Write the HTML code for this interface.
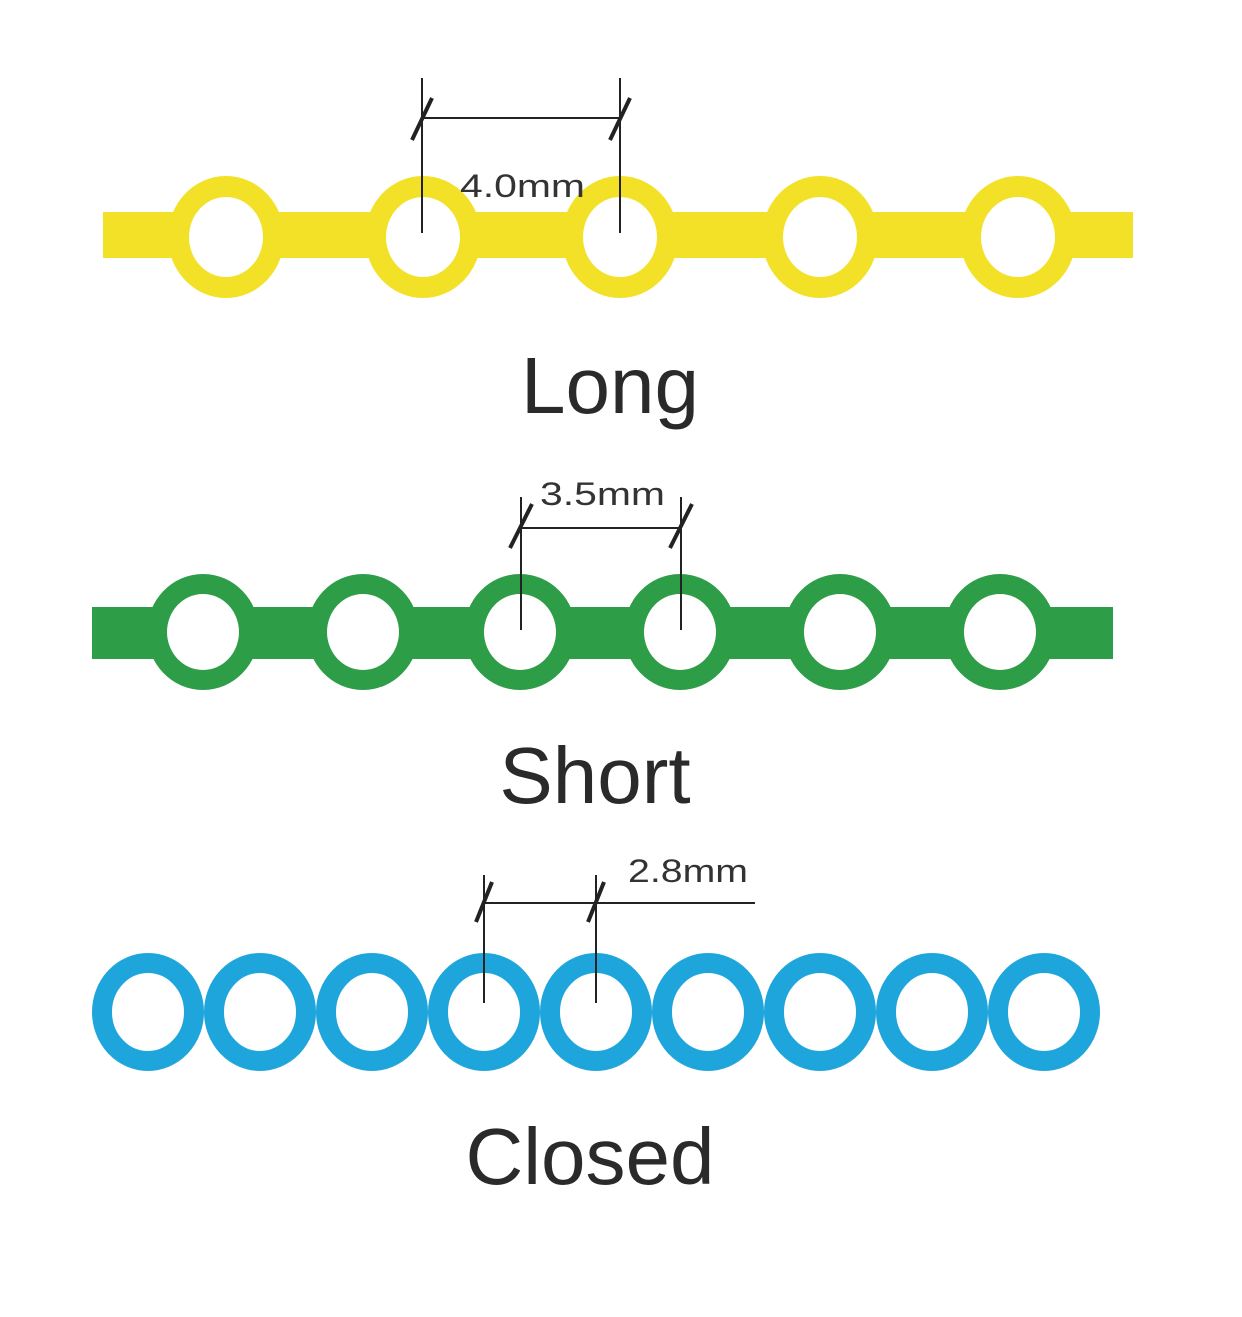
<!DOCTYPE html>
<html><head><meta charset="utf-8"><style>html,body{margin:0;padding:0;background:#fff}</style></head>
<body>
<svg width="1242" height="1312" xmlns="http://www.w3.org/2000/svg" font-family="Liberation Sans, sans-serif">
<rect width="1242" height="1312" fill="#fff"/>
<g fill="#f2e127">
<rect x="103" y="212" width="1030" height="46"/>
<ellipse cx="226" cy="237" rx="58" ry="61"/>
<ellipse cx="423" cy="237" rx="58" ry="61"/>
<ellipse cx="620" cy="237" rx="58" ry="61"/>
<ellipse cx="820" cy="237" rx="58" ry="61"/>
<ellipse cx="1018" cy="237" rx="58" ry="61"/>
</g>
<g fill="#fff">
<ellipse cx="226" cy="237" rx="37" ry="40"/>
<ellipse cx="423" cy="237" rx="37" ry="40"/>
<ellipse cx="620" cy="237" rx="37" ry="40"/>
<ellipse cx="820" cy="237" rx="37" ry="40"/>
<ellipse cx="1018" cy="237" rx="37" ry="40"/>
</g>
<g stroke="#222" fill="none">
<line x1="422" y1="78" x2="422" y2="233" stroke-width="2"/>
<line x1="620" y1="78" x2="620" y2="233" stroke-width="2"/>
<line x1="422" y1="118" x2="620" y2="118" stroke-width="2"/>
<line x1="412" y1="140" x2="432" y2="98" stroke-width="4"/>
<line x1="610" y1="140" x2="630" y2="98" stroke-width="4"/>
</g>
<text x="460" y="197" font-size="32" fill="#333" textLength="125" lengthAdjust="spacingAndGlyphs">4.0mm</text>
<text x="610" y="413" font-size="80" fill="#2a2a2a" text-anchor="middle">Long</text>
<g fill="#2e9d48">
<rect x="92" y="607" width="1021" height="52"/>
<ellipse cx="203" cy="632" rx="56" ry="58"/>
<ellipse cx="363" cy="632" rx="56" ry="58"/>
<ellipse cx="520" cy="632" rx="56" ry="58"/>
<ellipse cx="680" cy="632" rx="56" ry="58"/>
<ellipse cx="840" cy="632" rx="56" ry="58"/>
<ellipse cx="1000" cy="632" rx="56" ry="58"/>
</g>
<g fill="#fff">
<ellipse cx="203" cy="632" rx="36" ry="38"/>
<ellipse cx="363" cy="632" rx="36" ry="38"/>
<ellipse cx="520" cy="632" rx="36" ry="38"/>
<ellipse cx="680" cy="632" rx="36" ry="38"/>
<ellipse cx="840" cy="632" rx="36" ry="38"/>
<ellipse cx="1000" cy="632" rx="36" ry="38"/>
</g>
<g stroke="#222" fill="none">
<line x1="521" y1="497" x2="521" y2="630" stroke-width="2"/>
<line x1="681" y1="497" x2="681" y2="630" stroke-width="2"/>
<line x1="521" y1="528" x2="681" y2="528" stroke-width="2"/>
<line x1="510" y1="548" x2="532" y2="504" stroke-width="4"/>
<line x1="670" y1="548" x2="692" y2="504" stroke-width="4"/>
</g>
<text x="540" y="505" font-size="32" fill="#333" textLength="125" lengthAdjust="spacingAndGlyphs">3.5mm</text>
<text x="595" y="803" font-size="80" fill="#2a2a2a" text-anchor="middle">Short</text>
<g fill="none" stroke="#1ea6dc" stroke-width="20">
<ellipse cx="148" cy="1012" rx="46" ry="49"/>
<ellipse cx="260" cy="1012" rx="46" ry="49"/>
<ellipse cx="372" cy="1012" rx="46" ry="49"/>
<ellipse cx="484" cy="1012" rx="46" ry="49"/>
<ellipse cx="596" cy="1012" rx="46" ry="49"/>
<ellipse cx="708" cy="1012" rx="46" ry="49"/>
<ellipse cx="820" cy="1012" rx="46" ry="49"/>
<ellipse cx="932" cy="1012" rx="46" ry="49"/>
<ellipse cx="1044" cy="1012" rx="46" ry="49"/>
</g>
<g stroke="#222" fill="none">
<line x1="484" y1="875" x2="484" y2="1003" stroke-width="2"/>
<line x1="596" y1="875" x2="596" y2="1003" stroke-width="2"/>
<line x1="484" y1="903" x2="755" y2="903" stroke-width="2"/>
<line x1="476" y1="922" x2="492" y2="882" stroke-width="4"/>
<line x1="588" y1="922" x2="604" y2="882" stroke-width="4"/>
</g>
<text x="628" y="882" font-size="32" fill="#333" textLength="120" lengthAdjust="spacingAndGlyphs">2.8mm</text>
<text x="590" y="1184" font-size="80" fill="#2a2a2a" text-anchor="middle">Closed</text>
</svg>
</body></html>
